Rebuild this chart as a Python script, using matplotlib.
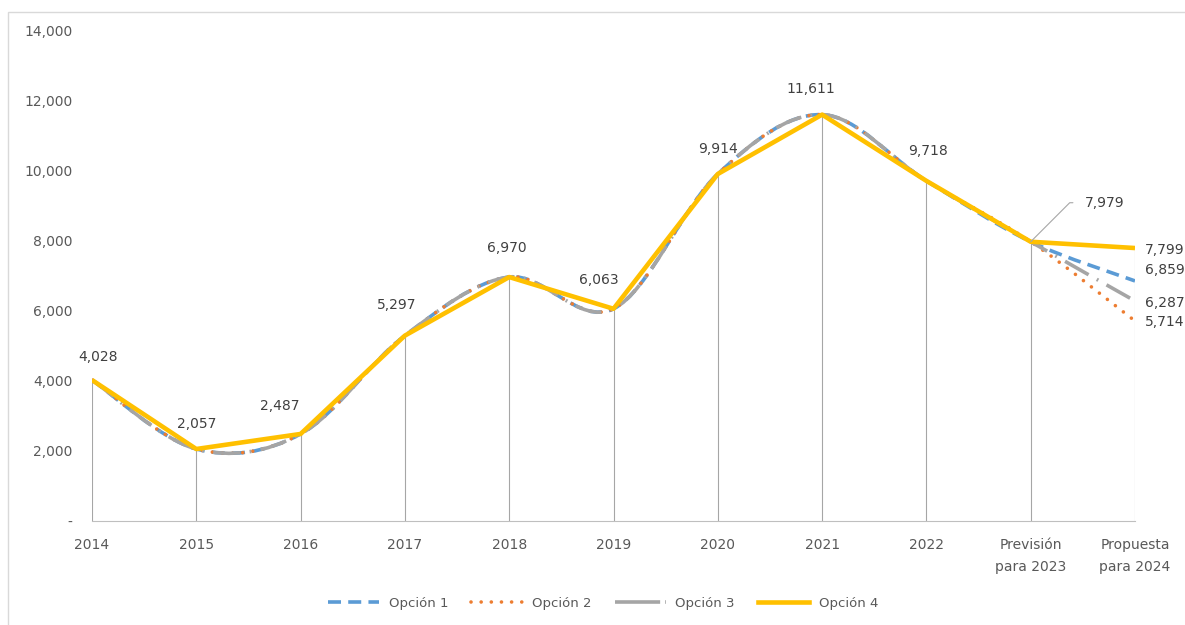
import numpy as np
import matplotlib
matplotlib.use('Agg')
import matplotlib.pyplot as plt
from matplotlib.path import Path
from matplotlib.patches import PathPatch, Rectangle
from matplotlib.lines import Line2D
from matplotlib.ticker import FuncFormatter

plt.rcParams['font.family'] = ['DejaVu Sans']

categories = ['2014', '2015', '2016', '2017', '2018', '2019', '2020', '2021', '2022',
              'Previsión\npara 2023', 'Propuesta\npara 2024']
history = [4028, 2057, 2487, 5297, 6970, 6063, 9914, 11611, 9718, 7979]
final_2024 = {'Opción 1': 6859, 'Opción 2': 5714, 'Opción 3': 6287, 'Opción 4': 7799}

colors = {'Opción 1': '#5B9BD5', 'Opción 2': '#ED7D31', 'Opción 3': '#A5A5A5', 'Opción 4': '#FFC000'}
# dash patterns in units of linewidth
dashes = {'Opción 1': (0, (3.6, 2.0)), 'Opción 2': (0, (0.01, 2.8)), 'Opción 3': (0, (7.5, 2.6, 0.5, 2.6))}

# label offsets in pixels (dx, dy), dy positive = up
hist_offsets = [(6, 23), (0, 25), (-21, 28), (-8, 31), (-2, 29), (-15, 29), (0, 25), (-11, 26), (2, 30)]
end_offsets = {'Opción 4': (10, -2), 'Opción 1': (10, 11), 'Opción 3': (10, -2), 'Opción 2': (10, -1)}

DPI = 100
px = 72.0 / DPI
FS = 10


def smooth_path(xs, ys):
    # Excel-like smoothed line: Catmull-Rom converted to cubic Bezier
    pts = np.column_stack([xs, ys]).astype(float)
    n = len(pts)
    verts = [pts[0]]
    codes = [Path.MOVETO]
    for i in range(n - 1):
        p0 = pts[i - 1] if i > 0 else pts[i]
        p1 = pts[i]
        p2 = pts[i + 1]
        p3 = pts[i + 2] if i + 2 < n else pts[i + 1]
        c1 = p1 + (p2 - p0) / 6.0
        c2 = p2 - (p3 - p1) / 6.0
        verts += [c1, c2, p2]
        codes += [Path.CURVE4] * 3
    return Path(verts, codes)


fig = plt.figure(figsize=(11.85, 6.25), dpi=DPI)
ax = fig.add_axes([92 / 1185, 1 - 521 / 625, (1135 - 92) / 1185, (521 - 31) / 625])

x = np.arange(len(categories))
series = {k: history + [v] for k, v in final_2024.items()}

# drop lines
tops = np.max(np.array(list(series.values())), axis=0)
ax.vlines(x, 0, tops, colors='#A6A6A6', lw=0.8, zorder=1)

for name in ['Opción 1', 'Opción 2', 'Opción 3']:
    patch = PathPatch(smooth_path(x, series[name]), fill=False, edgecolor=colors[name],
                      lw=2.6, linestyle=dashes[name], zorder=2)
    patch.set_capstyle('round' if name == 'Opción 2' else 'butt')
    patch.set_joinstyle('round')
    ax.add_patch(patch)

ax.plot(x, series['Opción 4'], color=colors['Opción 4'], lw=3.3, solid_joinstyle='round',
        solid_capstyle='butt', zorder=3)

# data labels
lab_kw = dict(fontsize=FS, color='#404040', textcoords='offset points')
for i, v in enumerate(history[:-1]):
    dx, dy = hist_offsets[i]
    ax.annotate(f'{v:,}', (x[i], v), xytext=(dx * px, dy * px), ha='center', va='center', **lab_kw)

ax.annotate(f'{history[-1]:,}', (x[9], history[-1]), xytext=(54 * px, 39 * px),
            ha='left', va='center',
            arrowprops=dict(arrowstyle='-', color='#A6A6A6', lw=0.8, relpos=(0, 0.5),
                            shrinkA=9 * px, shrinkB=0,
                            connectionstyle='angle,angleA=0,angleB=45,rad=0'),
            **lab_kw)

for name, v in final_2024.items():
    dx, dy = end_offsets[name]
    ax.annotate(f'{v:,}', (x[10], v), xytext=(dx * px, dy * px), ha='left', va='center',
                annotation_clip=False, **lab_kw)

ax.set_xlim(0, 10)
ax.set_ylim(0, 14000)
ax.set_xticks(x)
ax.set_xticklabels(categories, linespacing=1.75)
ax.set_yticks(np.arange(0, 14001, 2000))
ax.yaxis.set_major_formatter(FuncFormatter(lambda v, p: '-' if v == 0 else f'{v:,.0f}'))
ax.tick_params(axis='y', length=0, pad=14, labelsize=FS, labelcolor='#595959')
ax.tick_params(axis='x', length=0, pad=12, labelsize=FS, labelcolor='#595959')
for s in ['top', 'right', 'left']:
    ax.spines[s].set_visible(False)
ax.spines['bottom'].set_color('#BFBFBF')
ax.spines['bottom'].set_linewidth(0.8)

handles = []
for name in ['Opción 1', 'Opción 2', 'Opción 3', 'Opción 4']:
    if name == 'Opción 1':
        h = Line2D([], [], color=colors[name], lw=2.6, linestyle=(0, (3.6, 2.0)))
    elif name == 'Opción 2':
        h = Line2D([], [], color=colors[name], lw=2.6, linestyle=(0, (0.01, 2.8)), dash_capstyle='round')
    elif name == 'Opción 3':
        h = Line2D([], [], color=colors[name], lw=2.6, linestyle=(0, (12.5, 1.4, 0.6, 6)))
    else:
        h = Line2D([], [], color=colors[name], lw=3.3)
    handles.append(h)

fig.legend(handles, ['Opción 1', 'Opción 2', 'Opción 3', 'Opción 4'], loc='center',
           bbox_to_anchor=(603 / 1185, 1 - 603 / 625), ncol=4, frameon=False, fontsize=9.5,
           handlelength=3.9, handletextpad=0.7, columnspacing=1.75, labelcolor='#595959')

fig.add_artist(Rectangle((8 / 1185, -0.1), 1.2, 1 - 12 / 625 + 0.1, transform=fig.transFigure,
                         fill=False, ec='#D9D9D9', lw=1))

fig.savefig('out.png', dpi=DPI)
